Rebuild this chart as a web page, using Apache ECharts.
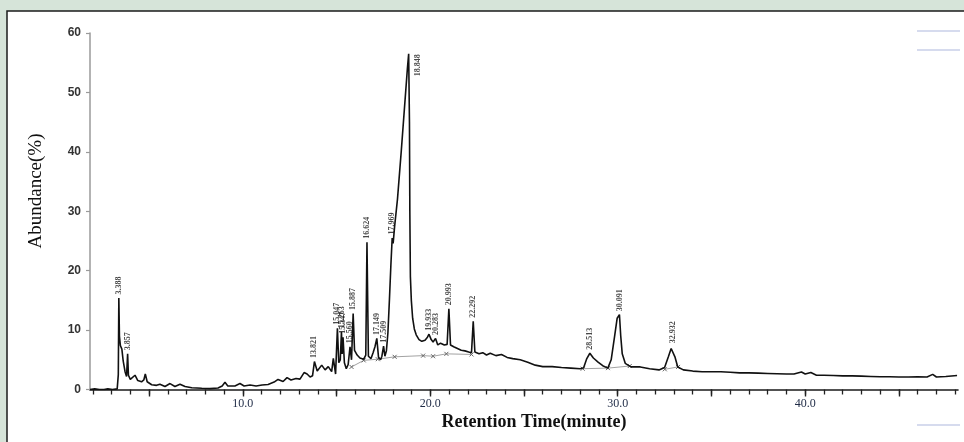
<!DOCTYPE html>
<html><head><meta charset="utf-8">
<script src="https://cdn.jsdelivr.net/npm/echarts@6/dist/echarts.min.js"></script>
<style>html,body{margin:0;padding:0;background:#d6e4d9;}#c{width:964px;height:442px;}</style>
</head><body><div id="c"></div>
<script>
// Chromatogram trace (retention time in minutes, abundance in %)
const traceTime = [1.85,2.10,2.35,2.60,2.80,3.05,3.30,3.36,3.388,3.42,3.47,3.55,3.62,3.72,3.80,3.857,3.90,4.00,4.25,4.40,4.60,4.72,4.80,4.90,5.14,5.40,5.58,5.85,6.12,6.38,6.65,6.92,7.28,7.81,8.25,8.68,8.90,9.05,9.20,9.58,9.85,10.07,10.39,10.71,11.03,11.35,11.67,11.88,12.15,12.36,12.57,12.84,13.05,13.27,13.43,13.59,13.72,13.821,13.97,14.21,14.39,14.56,14.74,14.83,14.95,15.047,15.12,15.20,15.263,15.30,15.347,15.42,15.52,15.62,15.72,15.80,15.887,15.96,16.10,16.25,16.45,16.56,16.624,16.70,16.84,16.95,17.05,17.149,17.24,17.35,17.42,17.509,17.58,17.66,17.74,17.82,17.90,17.969,18.02,18.10,18.25,18.45,18.65,18.78,18.848,18.89,18.91,18.94,18.99,19.06,19.15,19.25,19.40,19.55,19.72,19.85,19.933,20.05,20.15,20.283,20.40,20.55,20.75,20.90,20.993,21.08,21.25,21.45,21.65,21.85,22.05,22.20,22.292,22.38,22.60,22.80,23.00,23.20,23.50,23.80,24.10,24.40,24.80,25.20,25.60,26.00,26.50,27.00,27.50,28.00,28.18,28.35,28.513,28.70,28.95,29.20,29.47,29.65,29.83,29.97,30.091,30.16,30.24,30.40,30.70,31.20,31.70,32.20,32.50,32.70,32.85,32.932,33.05,33.20,33.50,34.00,34.50,35.00,35.50,36.00,36.50,37.00,37.50,38.00,38.50,39.00,39.40,39.80,40.00,40.30,40.60,41.00,41.50,42.00,42.50,43.00,43.50,44.00,44.50,45.00,45.50,46.00,46.50,46.80,47.00,47.50,48.10];
const traceAbund = [0.0,0.1,0.0,0.0,0.1,0.0,0.1,2.5,15.4,9.0,7.4,6.8,4.8,3.0,2.2,6.0,2.4,1.7,2.4,1.5,1.3,1.6,2.6,1.3,0.8,0.7,0.9,0.5,1.0,0.5,0.9,0.5,0.3,0.2,0.15,0.25,0.6,1.2,0.6,0.6,1.0,0.6,0.75,0.6,0.75,0.85,1.25,1.7,1.35,2.0,1.6,1.85,1.75,2.85,2.6,2.1,2.3,4.7,3.1,4.1,3.3,3.85,3.0,5.25,2.6,10.3,4.5,5.0,9.7,6.0,8.8,4.5,3.5,4.2,7.2,5.0,12.8,6.6,5.8,5.3,5.1,5.8,24.8,5.6,5.2,6.2,7.2,8.6,5.4,5.0,5.6,7.3,5.6,6.5,9.5,15.0,21.0,25.5,24.6,27.5,32.0,40.0,48.5,54.0,56.5,45.0,30.0,19.0,15.0,12.0,10.2,9.2,8.4,8.1,8.3,8.8,9.3,8.4,8.0,8.6,7.5,7.8,7.5,7.6,13.6,7.5,7.2,6.9,6.6,6.5,6.3,6.2,11.5,6.3,6.0,6.2,5.8,6.1,5.7,5.9,5.4,5.2,5.0,4.6,4.1,3.85,3.85,3.7,3.6,3.5,3.65,5.2,6.1,5.3,4.6,4.0,3.6,5.0,8.9,12.0,12.6,9.0,6.0,4.4,3.8,3.8,3.5,3.3,3.7,5.5,6.9,7.2,5.5,3.8,3.3,3.1,3.0,3.0,3.0,2.9,2.8,2.8,2.75,2.7,2.65,2.6,2.6,2.95,2.6,2.85,2.4,2.4,2.35,2.3,2.3,2.25,2.2,2.15,2.15,2.1,2.1,2.15,2.1,2.55,2.1,2.2,2.35];

// Labelled peaks
const peakLabels  = ['3.388','3.857','13.821','15.047','15.263','15.347','15.560','15.887','16.624','17.149','17.509','17.969','18.848','19.933','20.283','20.993','22.292','28.513','30.091','32.932'];
const peakTimes   = [3.388,3.857,13.821,15.047,15.263,15.347,15.72,15.887,16.624,17.149,17.509,17.969,18.848,19.933,20.283,20.993,22.292,28.513,30.091,32.932];
const peakHeights = [15.4,6.0,4.7,10.3,9.7,8.8,7.2,12.8,24.8,8.6,7.3,25.5,56.5,9.3,8.6,13.6,11.5,6.1,12.6,7.2];

// Integration baseline segments (null = break)
const baseTime  = [15.80,16.45,17.20,18.10,19.62,20.15,20.86,22.20,null,28.13,29.48,30.64,null,32.51,33.22];
const baseAbund = [3.8,4.9,5.1,5.5,5.7,5.6,6.0,5.9,null,3.5,3.6,3.95,null,3.4,3.8];

// Axis ticks
const xLabelValues = [10,20,30,40];
const xMinorTicks = [2,3,4,5,6,7,8,9,10,11,12,13,14,15,16,17,18,19,20,21,22,23,24,25,26,27,28,29,30,31,32,33,34,35,36,37,38,39,40,41,42,43,44,45,46,47,48];
const xMajorTicks = [5,10,15,20,25,30,35,40,45];
const yMin = 0, yMax = 60, yStep = 10;
const xMin = 1.85, xMax = 48.15;

const chart = echarts.init(document.getElementById('c'), null, {renderer: 'canvas'});

const traceData = traceTime.map((t, i) => [t, traceAbund[i]]);
const baseData = baseTime.map((t, i) => t === null ? '-' : [t, baseAbund[i]]);
const peakData = peakTimes.map((t, i) => {
  const item = {value: [t, peakHeights[i]], name: peakLabels[i]};
  if (peakLabels[i] === '18.848') {
    item.label = {position: [10, 23]};
  }
  return item;
});

const crossPath = 'path://M0,0L10,10M10,0L0,10';

chart.setOption({
  backgroundColor: '#d6e4d9',
  animation: false,
  grid: {left: 90, right: 6, top: 33, bottom: 52.5, containLabel: false},
  xAxis: [{
    type: 'value', min: xMin, max: xMax,
    axisLine: {show: true, onZero: false, lineStyle: {color: '#1a1a1a', width: 1.6}},
    axisTick: {show: true, customValues: xMinorTicks, length: 5, lineStyle: {color: '#222', width: 1.3}},
    axisLabel: {show: true, customValues: xLabelValues, margin: 8, formatter: v => v.toFixed(1),
      fontFamily: 'Liberation Serif', fontSize: 12, color: '#1e2a45'},
    splitLine: {show: false}
  }, {
    type: 'value', min: xMin, max: xMax, position: 'bottom',
    axisLine: {show: false, onZero: false},
    axisTick: {show: true, customValues: xMajorTicks, length: 7, lineStyle: {color: '#222', width: 1.4}},
    axisLabel: {show: false},
    splitLine: {show: false}
  }],
  yAxis: {
    type: 'value', min: yMin, max: yMax, interval: yStep,
    axisLine: {show: true, lineStyle: {color: '#9a9a9a', width: 1.5}},
    axisTick: {show: true, length: 4, lineStyle: {color: '#9a9a9a', width: 1.2}},
    axisLabel: {margin: 9, fontFamily: 'Liberation Sans', fontWeight: 'bold', fontSize: 12, color: '#333'},
    splitLine: {show: false}
  },
  series: [{
    type: 'line', xAxisIndex: 0, data: traceData, showSymbol: false, symbol: 'none',
    lineStyle: {color: '#111', width: 1.6}, z: 3, silent: true
  }, {
    type: 'line', xAxisIndex: 0, data: baseData, connectNulls: false,
    symbol: crossPath, symbolSize: 4, showSymbol: true,
    itemStyle: {color: 'transparent', borderColor: '#666', borderWidth: 1},
    lineStyle: {color: '#8a8a8a', width: 0.8}, z: 2, silent: true
  }, {
    type: 'scatter', xAxisIndex: 0, data: peakData, symbolSize: 1,
    itemStyle: {color: 'transparent'}, z: 4, silent: true,
    label: {
      show: true, position: 'top', distance: 3, rotate: 90, align: 'left', verticalAlign: 'middle',
      formatter: p => p.name, fontFamily: 'Liberation Serif', fontWeight: 'bold', fontSize: 8, color: '#1a1a1a'
    }
  }],
  graphic: [
    {type: 'rect', z: -100, shape: {x: 7, y: 11, width: 1000, height: 500},
     style: {fill: '#ffffff', stroke: '#1b1b1b', lineWidth: 1.5}},
    {type: 'text', x: 36.5, y: 191, rotation: Math.PI / 2,
     style: {text: 'Abundance(%)', font: '19px "Liberation Serif"', fill: '#111', align: 'center', verticalAlign: 'middle'}},
    {type: 'text', x: 534, y: 422,
     style: {text: 'Retention Time(minute)', font: 'bold 18px "Liberation Serif"', fill: '#111', align: 'center', verticalAlign: 'middle'}},
    {type: 'line', shape: {x1: 917, y1: 31, x2: 960, y2: 31}, style: {stroke: '#c8cfe9', lineWidth: 1.5}},
    {type: 'line', shape: {x1: 917, y1: 50, x2: 960, y2: 50}, style: {stroke: '#c8cfe9', lineWidth: 1.5}},
    {type: 'line', shape: {x1: 917, y1: 425, x2: 960, y2: 425}, style: {stroke: '#c8cfe9', lineWidth: 1.5}}
  ]
});
</script></body></html>
